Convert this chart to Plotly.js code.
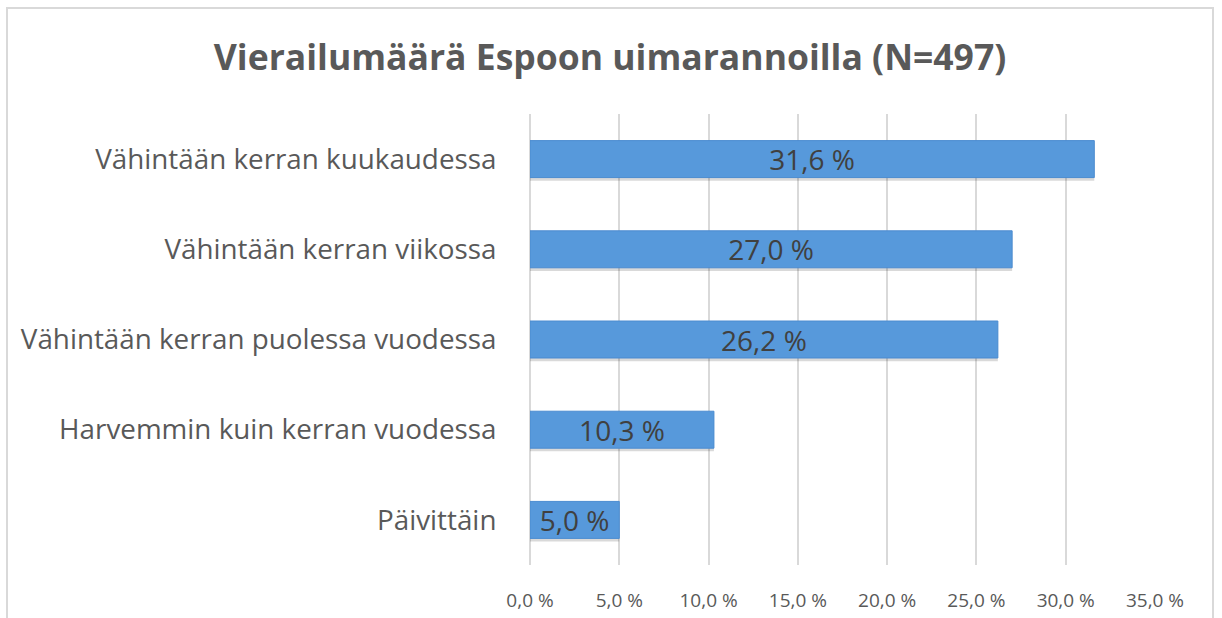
<!DOCTYPE html>
<html><head><meta charset="utf-8">
<script src="https://cdn.plot.ly/plotly-3.0.1.min.js"></script>
<style>html,body{margin:0;padding:0;background:#fff}#chart{width:1222px;height:618px}</style>
</head><body><div id="chart"></div>
<script>
const categories = ["Päivittäin","Harvemmin kuin kerran vuodessa","Vähintään kerran puolessa vuodessa","Vähintään kerran viikossa","Vähintään kerran kuukaudessa"];
const values = [5.0, 10.3, 26.2, 27.0, 31.6];
const tickValues = [0,5,10,15,20,25,30,35];
const tickLabels = ["0,0 %","5,0 %","10,0 %","15,0 %","20,0 %","25,0 %","30,0 %","35,0 %"];
const titleText = "Vierailumäärä Espoon uimarannoilla (N=497)";

const labels = values.map(v => v.toFixed(1).replace('.', ',') + ' %');
const font = "Open Sans, Liberation Sans, sans-serif";

const trace = {
  type: 'bar', orientation: 'h', x: values, y: categories,
  width: 0.41,
  marker: {color: '#5799db', line: {color: '#4a8bd0', width: 1}},
  text: labels, textposition: 'inside', insidetextanchor: 'middle',
  textfont: {family: font, size: 28, color: '#404040'},
  constraintext: 'none',
  hoverinfo: 'none', cliponaxis: false
};
const shadow = {
  type: 'bar', orientation: 'h', x: values, y: categories,
  width: 0.41, offset: -0.24,
  marker: {color: 'rgba(0,0,0,0.15)'}, hoverinfo: 'none'
};

const layout = {
  width: 1222, height: 618,
  margin: {l: 530, r: 67, t: 114, b: 53},
  paper_bgcolor: '#fff', plot_bgcolor: '#fff',
  showlegend: false, barmode: 'overlay',
  title: {text: '<b>' + titleText + '</b>', x: 0.4992, xref: 'container', xanchor: 'center', y: 0.907, yref: 'container', yanchor: 'middle',
          font: {family: font, size: 35.5, color: '#595959'}},
  xaxis: {range: [0, 35], tickmode: 'array', tickvals: tickValues, ticktext: tickLabels,
          showgrid: true, gridcolor: '#d9d9d9', gridwidth: 2, zeroline: true, zerolinecolor: '#d9d9d9', zerolinewidth: 2,
          showline: false, ticks: 'outside', ticklen: 18, tickcolor: 'rgba(0,0,0,0)',
          tickfont: {family: font, size: 19, color: '#595959'}, fixedrange: true},
  yaxis: {type: 'category', categoryorder: 'array', categoryarray: categories,
          showgrid: false, zeroline: false, showline: false,
          ticks: 'outside', ticklen: 27, tickcolor: 'rgba(0,0,0,0)',
          tickfont: {family: font, size: 27.8, color: '#595959'}, fixedrange: true},
  shapes: [{type: 'rect', xref: 'paper', yref: 'paper', x0: -0.8368, x1: 1.0928, y0: -0.3, y1: 1.2350,
            line: {color: '#d9d9d9', width: 2}, fillcolor: 'rgba(0,0,0,0)', layer: 'below'}]
};
Plotly.newPlot('chart', [shadow, trace], layout, {displayModeBar: false, staticPlot: true});
</script></body></html>
